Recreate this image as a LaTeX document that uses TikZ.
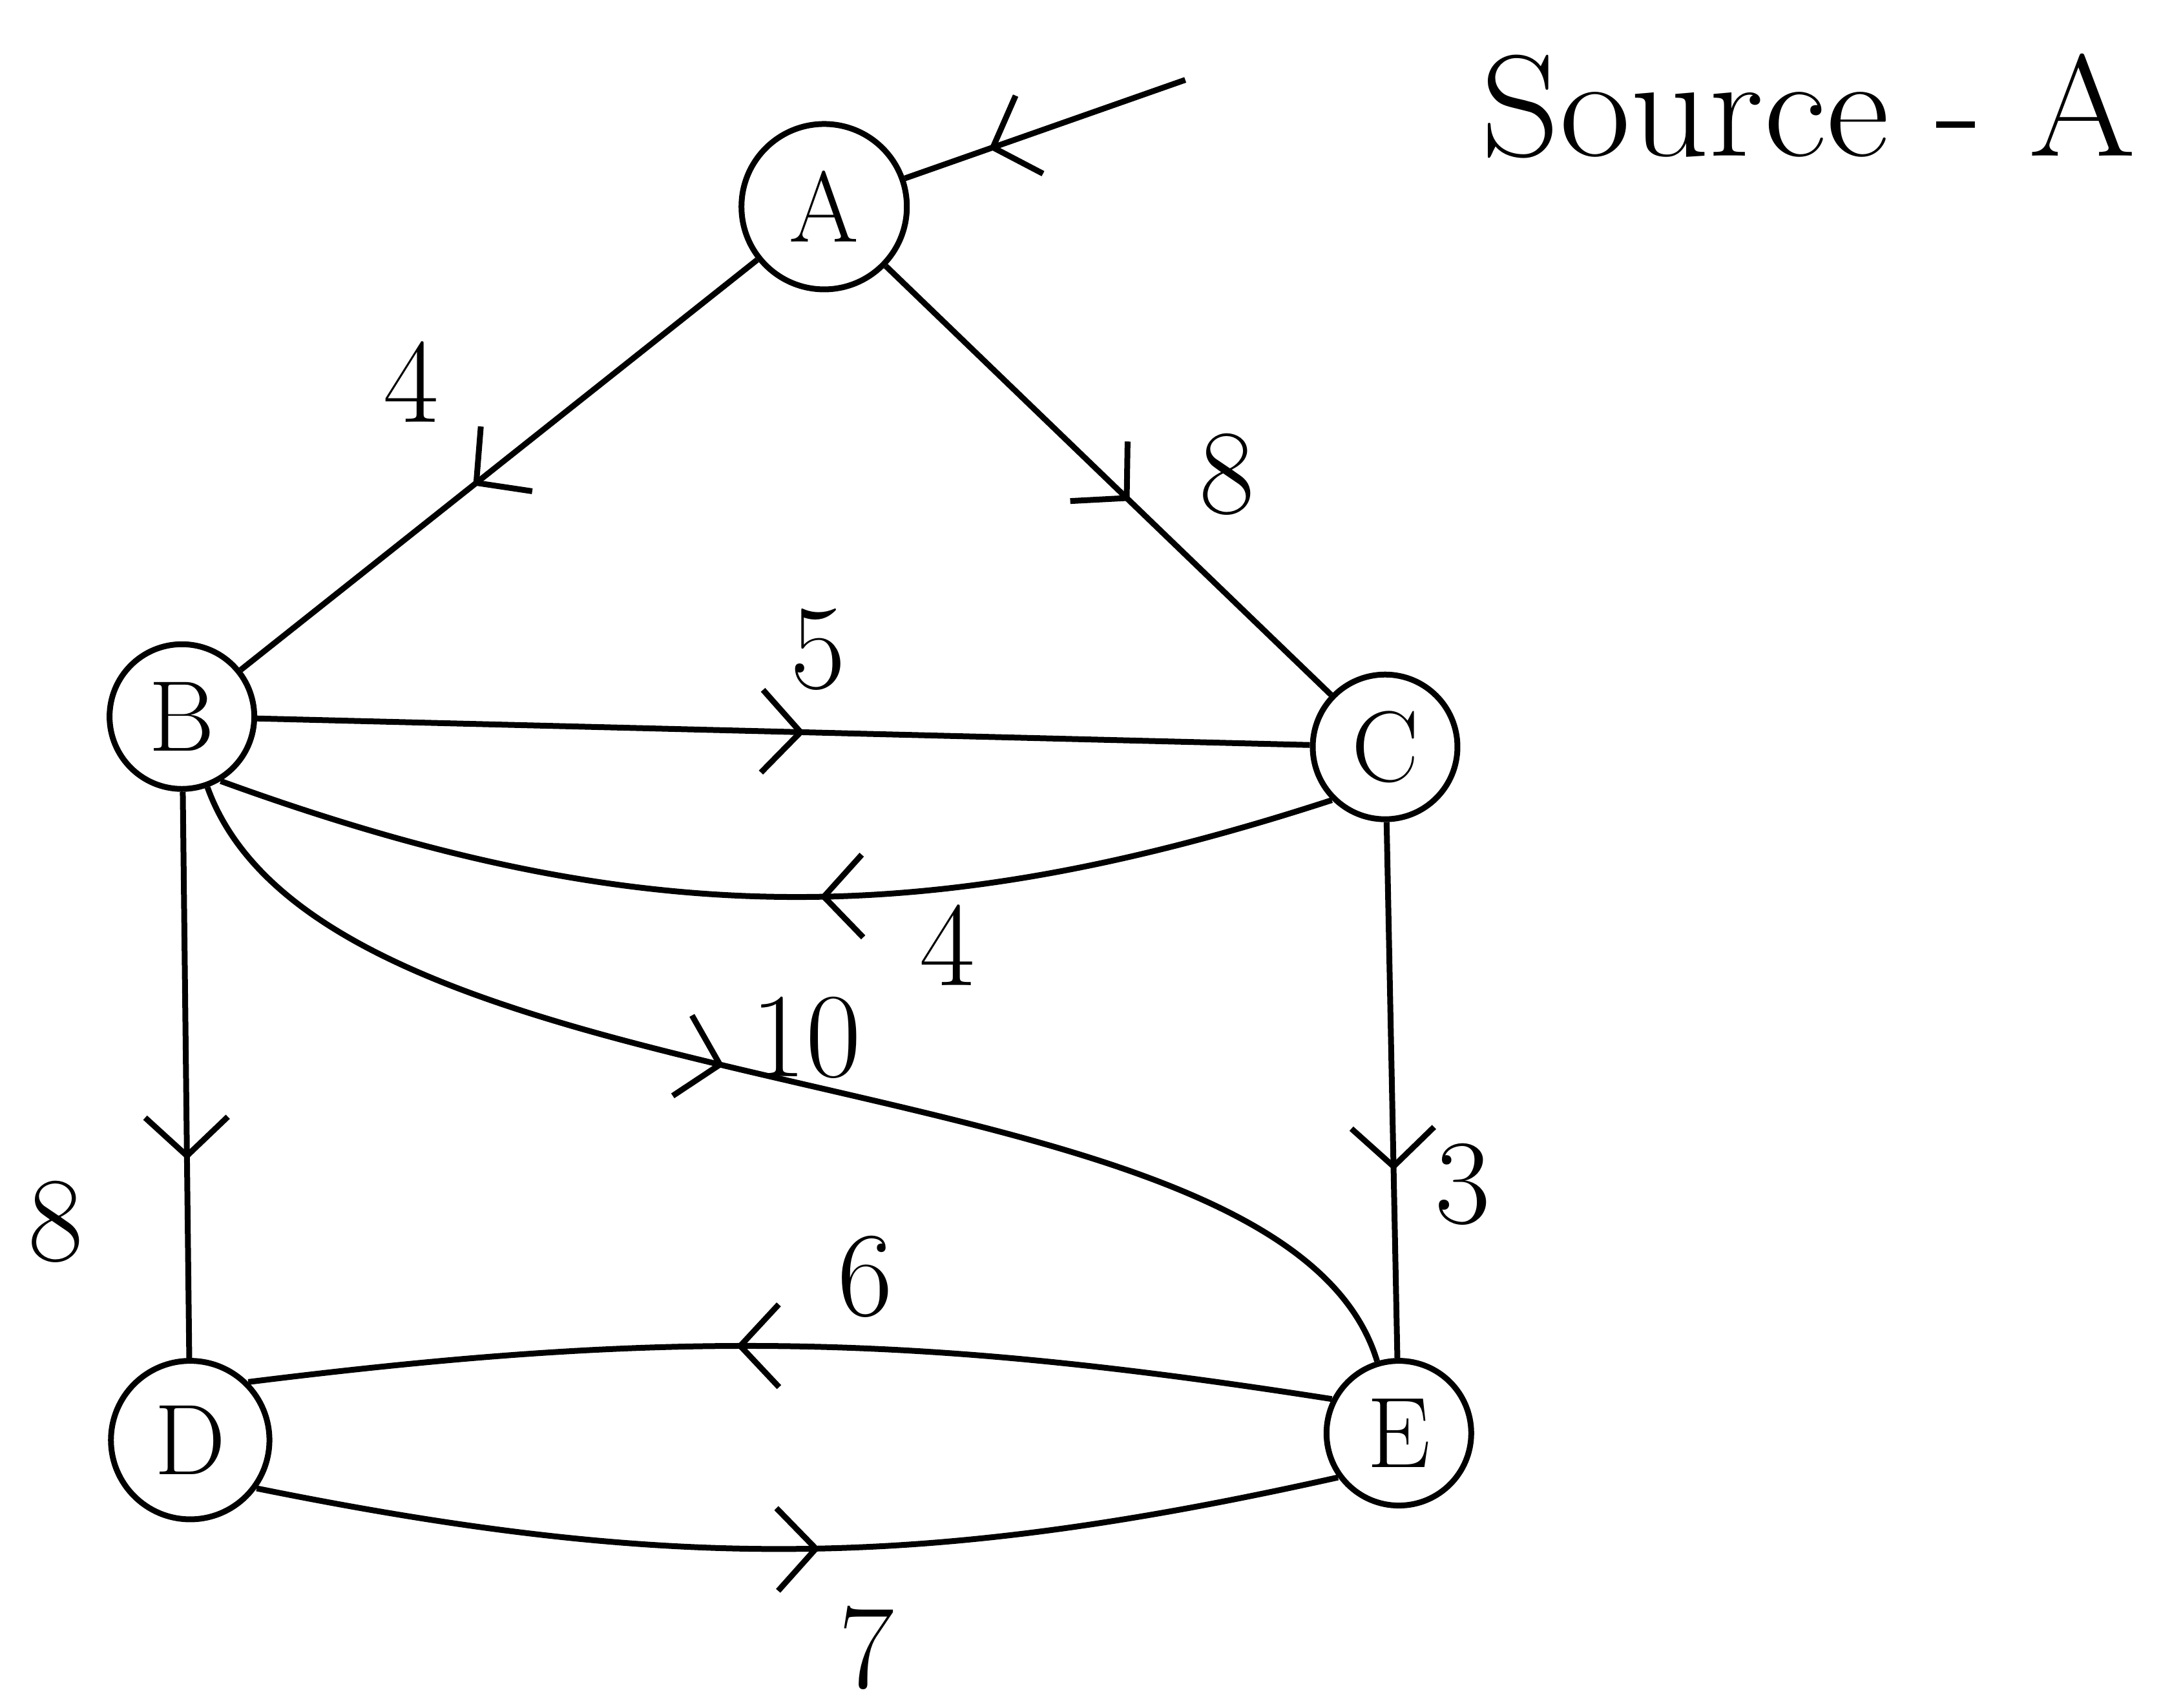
\documentclass[tikz,border=0pt]{standalone}
\usepackage{tikz}
\usetikzlibrary{arrows.meta,decorations.markings}

\begin{document}
\begin{tikzpicture}[very thick,
  vtx/.style={draw, circle, minimum size=1.05cm, inner sep=0pt, font=\huge},
  lbl/.style={font=\Huge, inner sep=1pt},
  mid/.style={postaction={decorate}, decoration={markings,
    mark=at position #1 with {\arrow{Straight Barb[length=2.8mm, width=6mm, line width=1.2pt]}}}}]
\useasboundingbox (0,0) rectangle (15.68,12.39);
%vertices
\node[vtx, minimum size=1.2cm] (A) at (5.98,10.89) {A};
\node[vtx] (B) at (1.32,7.19) {B};
\node[vtx] (C) at (10.05,6.97) {C};
\node[vtx, minimum size=1.15cm] (D) at (1.38,1.94) {D};
\node[vtx] (E) at (10.15,1.99) {E};
\node[font=\Huge, xscale=1.28, yscale=1.2] (src) at (13.12,11.62) {Source - A};
\coordinate (in) at (8.6,11.81);
%edges
\draw[mid=0.7] (in) -- (A);
\draw[mid=0.55] (A) -- (B) node[lbl, pos=0.55, xshift=-0.45cm, yshift=0.75cm] {4};
\draw[mid=0.55] (A) -- (C) node[lbl, pos=0.55, xshift=0.7cm, yshift=0.2cm] {8};
\draw[mid=0.52] (B) -- (C) node[lbl, pos=0.52, xshift=0.1cm, yshift=0.6cm] {5};
\draw[mid=0.46] (C.225) to[bend left=19] node[lbl, pos=0.46, xshift=0.95cm, yshift=-0.35cm] {4} (B.-59);
\draw[mid=0.45] (B) .. controls (2.4,4.2) and (9.3,4.8) .. (E)
  node[lbl, pos=0.45, xshift=0.6cm, yshift=0.2cm] {10};
\draw[mid=0.65] (C) -- (E) node[lbl, pos=0.65, xshift=0.5cm, yshift=-0.1cm] {3};
\draw[mid=0.65] (B) -- (D) node[lbl, pos=0.65, xshift=-0.95cm, yshift=-0.45cm] {8};
\draw[mid=0.55] (E.153) to[bend right=8] node[lbl, pos=0.55, xshift=0.9cm, yshift=0.5cm] {6} (D.45);
\draw[mid=0.52] (D.-36) to[bend right=12] node[lbl, pos=0.52, xshift=0.35cm, yshift=-0.72cm] {7} (E.216);
\end{tikzpicture}
\end{document}
